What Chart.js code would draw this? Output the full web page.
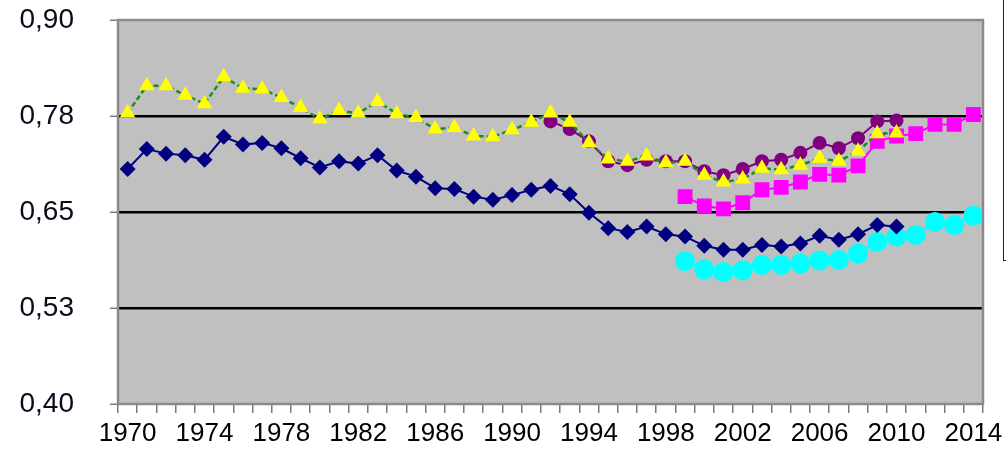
<!DOCTYPE html>
<html lang="en">
<head>
  <meta charset="UTF-8" />
  <title>Index chart 1970–2014</title>
  <script src="https://cdn.jsdelivr.net/npm/chart.js"></script>
  <style>
    body {
      margin: 0;
      background: #fff;
      font-family: "Liberation Sans", Arial, sans-serif;
    }
    #wrap {
      position: relative;
      width: 1006px;
      height: 451px;
      overflow: hidden;
    }
    #legendBox {
      position: absolute;
      left: 1003px;
      top: -2px;
      width: 20px;
      height: 261px;
      border: 1.5px solid #222;
      background: #fff;
    }
  </style>
</head>
<body>
  <div id="wrap">
    <canvas id="chart" width="1006" height="451"></canvas>
    <div id="legendBox"></div>
  </div>

  <script>
    // years on the x axis
    const years = [];
    for (let y = 1970; y <= 2014; y++) years.push(String(y));

    const yTicks = [0.40, 0.525, 0.65, 0.775, 0.90];
    const yTickLabels = ['0,40', '0,53', '0,65', '0,78', '0,90'];

    // navy diamonds, 1970-2010
    const navyValues = [
      0.706, 0.732, 0.726, 0.724, 0.718, 0.748, 0.738, 0.740, 0.733, 0.720, 0.708, 0.716,
      0.713, 0.724, 0.704, 0.696, 0.681, 0.680, 0.670, 0.666, 0.672, 0.679, 0.684, 0.673,
      0.649, 0.629, 0.624, 0.631, 0.621, 0.618, 0.606, 0.601, 0.601, 0.607, 0.605, 0.609,
      0.619, 0.614, 0.621, 0.633, 0.631
    ];
    // yellow triangles, 1970-2010
    const yellowValues = [
      0.779, 0.8145, 0.8145, 0.802, 0.791, 0.826, 0.811, 0.810, 0.799, 0.786, 0.771, 0.782,
      0.7785, 0.794, 0.778, 0.773, 0.758, 0.760, 0.749, 0.748, 0.757, 0.767, 0.779, 0.767,
      0.740, 0.719, 0.716, 0.723, 0.714, 0.716, 0.698, 0.689, 0.693, 0.707, 0.705, 0.711,
      0.720, 0.716, 0.729, 0.752, 0.753
    ];
    // purple circles, 1992-2010
    const purpleValues = [
      0.768, 0.758, 0.742, 0.716, 0.711, 0.718, 0.716, 0.716, 0.703, 0.698, 0.706, 0.716,
      0.718, 0.727, 0.740, 0.733, 0.746, 0.768, 0.769
    ];
    // magenta squares, 1999-2014
    const magentaValues = [
      0.670, 0.658, 0.654, 0.662, 0.679, 0.682, 0.689, 0.699, 0.698, 0.710, 0.742, 0.749,
      0.752, 0.764, 0.764, 0.777
    ];
    // cyan circles, 1999-2014
    const cyanValues = [
      0.586, 0.575, 0.572, 0.574, 0.581, 0.581, 0.583, 0.587, 0.5875, 0.596, 0.611, 0.618,
      0.620, 0.637, 0.633, 0.645
    ];

    // place a series starting at a given year on the full year axis
    function fromYear(start, vals) {
      const out = years.map(() => null);
      const i0 = years.indexOf(String(start));
      vals.forEach((v, i) => { out[i0 + i] = v; });
      return out;
    }

    const plotBg = {
      id: 'plotBg',
      beforeDraw(chart) {
        const { ctx, chartArea: a } = chart;
        ctx.save();
        ctx.fillStyle = '#c0c0c0';
        ctx.fillRect(a.left, a.top, a.right - a.left, a.bottom - a.top);
        ctx.restore();
      },
      afterDatasetsDraw(chart) {
        const { ctx, chartArea: a } = chart;
        ctx.save();
        ctx.strokeStyle = '#8a8a8a';
        ctx.lineWidth = 2.5;
        ctx.strokeRect(a.left, a.top, a.right - a.left, a.bottom - a.top);
        ctx.restore();
      }
    };

    const ds = (data, color, style, radius, order, extra) => Object.assign({
      data,
      borderColor: color,
      backgroundColor: color,
      pointBackgroundColor: color,
      pointBorderColor: color,
      pointBorderWidth: 0,
      pointStyle: style,
      pointRadius: radius,
      borderWidth: 2,
      spanGaps: false,
      order
    }, extra || {});

    const font = '"Liberation Sans", Arial, sans-serif';

    new Chart(document.getElementById('chart'), {
      type: 'line',
      data: {
        labels: years,
        datasets: [
          ds(fromYear(1970, yellowValues), '#ffff00', 'triangle', 9, 0,
             { borderColor: '#1f8a1f', borderDash: [5, 3], borderWidth: 2.5 }),
          ds(fromYear(1970, navyValues), '#000080', 'rectRot', 8, 1),
          ds(fromYear(1999, cyanValues), '#00ffff', 'circle', 10, 2),
          ds(fromYear(1999, magentaValues), '#ff00ff', 'rect', 10.5, 3),
          ds(fromYear(1992, purpleValues), '#800080', 'circle', 7, 4)
        ]
      },
      options: {
        responsive: false,
        animation: false,
        events: [],
        layout: { padding: { top: 20, right: 23, left: 0, bottom: 0 } },
        plugins: {
          legend: { display: false },
          tooltip: { enabled: false }
        },
        scales: {
          x: {
            offset: true,
            afterFit: s => { s.height = 47; s.paddingLeft = 0; s.paddingRight = 0; },
            grid: {
              offset: true,
              drawOnChartArea: false,
              drawTicks: true,
              tickLength: 9,
              color: '#7a7a7a',
              lineWidth: 1.5
            },
            border: { display: false },
            ticks: {
              autoSkip: false,
              maxRotation: 0,
              minRotation: 0,
              padding: 5,
              color: '#000',
              font: { family: font, size: 26 },
              callback: (v, i) => ((1970 + i) % 4 === 2 ? years[i] : '')
            }
          },
          y: {
            min: 0.40,
            max: 0.90,
            afterFit: s => { s.width = 118; s.paddingTop = 0; s.paddingBottom = 0; },
            afterBuildTicks: s => { s.ticks = yTicks.map(v => ({ value: v })); },
            grid: {
              color: c => (c.tick && (c.tick.value === 0.40 || c.tick.value === 0.90)) ? 'rgba(0,0,0,0)' : '#000',
              lineWidth: 2.5,
              drawTicks: true,
              tickLength: 8,
              tickColor: '#7a7a7a',
              tickWidth: 1.5
            },
            border: { display: false },
            ticks: {
              padding: 36,
              color: '#0a0a1a',
              font: { family: font, size: 28 },
              callback: (v, i) => yTickLabels[i]
            }
          }
        }
      },
      plugins: [plotBg]
    });
  </script>
</body>
</html>
